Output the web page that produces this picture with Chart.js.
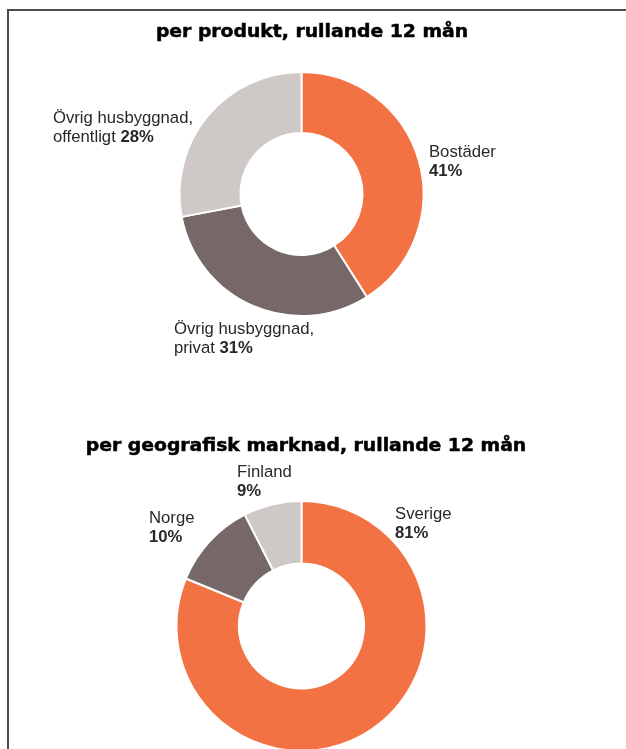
<!DOCTYPE html>
<html lang="sv">
<head>
<meta charset="utf-8">
<script src="https://cdn.jsdelivr.net/npm/chart.js@4/dist/chart.umd.min.js"></script>
<style>
  html, body { margin: 0; padding: 0; background: #fff; width: 626px; height: 749px; overflow: hidden; }
  #ram { position: absolute; left: 7px; top: 9px; width: 700px; height: 800px; border: 2px solid #4d4d4d; }
  .rubrik { position: absolute; left: 0; margin: 0; font: bold 17px "DejaVu Sans"; line-height: 20px; color: #000;
            -webkit-text-stroke: 0.5px #000; text-align: center; white-space: nowrap;
            transform: scaleX(1.105); transform-origin: center; }
  #rubrik1 { top: 21px; width: 624px; }
  #rubrik2 { top: 435px; width: 612px; }
  .ruta { position: absolute; left: 0; width: 626px; }
  #ruta1 { top: 0; height: 400px; }
  #ruta2 { top: 400px; height: 360px; }
</style>
</head>
<body>
<div id="ram"></div>
<div class="ruta" id="ruta1"><canvas id="produkt"></canvas></div>
<div class="ruta" id="ruta2"><canvas id="geografi"></canvas></div>
<h2 class="rubrik" id="rubrik1">per produkt, rullande 12 mån</h2>
<h2 class="rubrik" id="rubrik2">per geografisk marknad, rullande 12 mån</h2>
<script>
// Per produkt
const produktNamn = [['Bostäder', ''], ['Övrig husbyggnad,', 'privat'], ['Övrig husbyggnad,', 'offentligt']];
const produktVarden = [41, 31, 28];
const produktProcent = ['41%', '31%', '28%'];

// Per geografisk marknad (bågarnas storlek enligt bilden, etiketterna som de står)
const geoNamn = [['Sverige', ''], ['Norge', ''], ['Finland', '']];
const geoVarden = [81.2, 11.3, 7.5];
const geoProcent = ['81%', '10%', '9%'];

const farger = ['#F37244', '#756866', '#CEC9C6'];

// Etiketternas läge i radier från mitten (x, baslinje för första raden)
const produktLage = [[1.045, -0.303], [-1.045, 1.148], [-2.037, -0.582]];
const geoLage = [[0.748, -0.856], [-1.22, -0.824], [-0.516, -1.192]];

// Plugin som skriver namn + fet procentsats bredvid ringen
function etiketter(namn, procent, lage) {
  return {
    id: 'etiketter',
    afterDatasetsDraw(chart) {
      const arc = chart.getDatasetMeta(0).data[0];
      const cx = arc.x, cy = arc.y, r = arc.outerRadius;
      const ctx = chart.ctx;
      ctx.save();
      ctx.fillStyle = '#2b2728';
      ctx.textBaseline = 'alphabetic';
      ctx.textAlign = 'left';
      namn.forEach(function (rader, i) {
        const x = cx + lage[i][0] * r;
        let y = cy + lage[i][1] * r;
        rader.forEach(function (rad, j) {
          ctx.font = '16.7px "Liberation Sans"';
          ctx.fillText(rad, x, y);
          if (j === rader.length - 1) {
            const w = rad ? ctx.measureText(rad + ' ').width : 0;
            ctx.font = 'bold 16.7px "Liberation Sans"';
            ctx.fillText(procent[i], x + w, y);
          }
          y += 19;
        });
      });
      ctx.restore();
    }
  };
}

function ring(id, varden, namn, procent, lage, padding) {
  return new Chart(document.getElementById(id), {
    type: 'doughnut',
    data: {
      labels: namn.map(function (n) { return n.join(' ').trim(); }),
      datasets: [{
        data: varden,
        backgroundColor: farger,
        borderColor: '#ffffff',
        borderWidth: 2
      }]
    },
    options: {
      responsive: true,
      maintainAspectRatio: false,
      animation: false,
      cutout: '50%',
      layout: { padding: padding },
      plugins: {
        legend: { display: false },
        tooltip: { enabled: false },
        title: { display: false }
      }
    },
    plugins: [etiketter(namn, procent, lage)]
  });
}

ring('produkt', produktVarden, produktNamn, produktProcent, produktLage,
  { left: 178.5, right: 201.5, top: 71, bottom: 83 });
ring('geografi', geoVarden, geoNamn, geoProcent, geoLage,
  { left: 175.5, right: 198.5, top: 100, bottom: 8 });
</script>
</body>
</html>
